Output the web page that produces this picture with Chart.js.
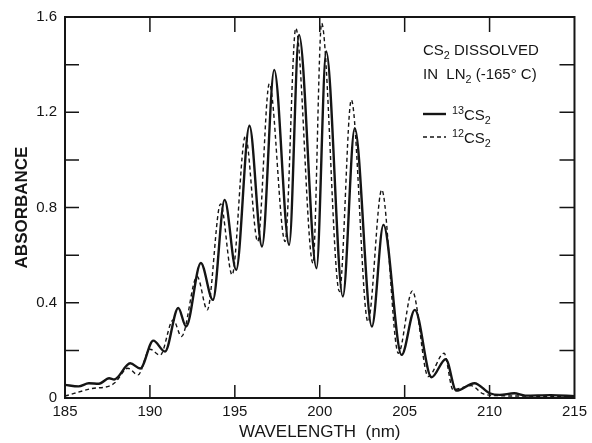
<!DOCTYPE html>
<html lang="en">
<head>
<meta charset="UTF-8">
<title>CS2 in LN2 absorbance</title>
<style>
  body { margin: 0; background: #fff; }
  #wrap { width: 592px; height: 443px; }
</style>
</head>
<body>
<div id="wrap"><canvas id="specChart"></canvas></div>

<script src="https://cdn.jsdelivr.net/npm/chart.js"></script>
<script>
// 13CS2 trace (solid line): wavelength (nm) and absorbance
const wl13 = [185.0, 185.8, 186.4, 187.0, 187.6, 187.9, 188.84, 189.43, 190.2, 190.89,
  191.67, 192.13, 193.0, 193.71, 194.4, 195.08, 195.86, 196.6, 197.32, 198.2,
  198.78, 199.81, 200.38, 201.36, 202.06, 203.07, 203.75, 204.82, 205.6, 206.58,
  207.42, 208.04, 209.11, 210.0, 210.6, 211.45, 212.1, 213.6, 215.0];
const abs13 = [0.055, 0.049, 0.062, 0.060, 0.083, 0.078, 0.146, 0.124, 0.241, 0.195,
  0.378, 0.300, 0.567, 0.412, 0.832, 0.538, 1.143, 0.636, 1.378, 0.643,
  1.525, 0.545, 1.455, 0.426, 1.133, 0.300, 0.727, 0.181, 0.370, 0.087,
  0.163, 0.031, 0.062, 0.020, 0.013, 0.020, 0.010, 0.012, 0.008];

// 12CS2 trace (dashed line)
const wl12 = [185.0, 186.6, 187.6, 187.95, 188.7, 189.3, 190.0, 190.6, 191.37, 191.86,
  192.78, 193.38, 194.16, 194.84, 195.62, 196.35, 197.03, 197.96, 198.59, 199.6,
  200.11, 201.16, 201.86, 202.84, 203.65, 204.63, 205.45, 206.39, 207.32, 207.85,
  208.92, 209.6, 210.5, 212.0, 215.0];
const abs12 = [0.008, 0.040, 0.050, 0.065, 0.125, 0.097, 0.205, 0.180, 0.328, 0.258,
  0.510, 0.370, 0.815, 0.517, 1.100, 0.657, 1.320, 0.657, 1.553, 0.566,
  1.574, 0.447, 1.252, 0.320, 0.874, 0.188, 0.450, 0.090, 0.188, 0.035,
  0.052, 0.018, 0.010, 0.008, 0.005];

// axis ticks
const xTicks = [185, 190, 195, 200, 205, 210, 215];
const yTicks = [0, 0.2, 0.4, 0.6, 0.8, 1.0, 1.2, 1.4, 1.6];
const yTickLabels = ['0', '', '0.4', '', '0.8', '', '1.2', '', '1.6'];

// text block in the top right; each piece is [text, 'sub' | 'sup' | '']
const noteLines = [
  [['CS', ''], ['2', 'sub'], [' DISSOLVED', '']],
  [['IN  LN', ''], ['2', 'sub'], [' (-165\u00b0 C)', '']]
];
const seriesNames = [
  [['13', 'sup'], ['CS', ''], ['2', 'sub']],
  [['12', 'sup'], ['CS', ''], ['2', 'sub']]
];

const FONT = '"Liberation Sans", Arial, sans-serif';
const INK = '#151515';

// draws a line of text with small sub/superscripts, returns nothing
function drawPieces(ctx, pieces, x, y, size) {
  pieces.forEach(([txt, kind]) => {
    const s = kind ? size * 0.72 : size;
    const dy = kind === 'sub' ? size * 0.28 : kind === 'sup' ? -size * 0.38 : 0;
    ctx.font = s + 'px ' + FONT;
    ctx.fillText(txt, x, y + dy);
    x += ctx.measureText(txt).width;
  });
}

// box, inward tick marks on all four sides, and the note/legend
const framePlugin = {
  id: 'framePlugin',
  afterDraw(chart) {
    const { ctx, chartArea: a, scales: { x, y } } = chart;
    ctx.save();
    ctx.strokeStyle = INK;
    ctx.lineWidth = 2;
    ctx.strokeRect(a.left, a.top, a.right - a.left, a.bottom - a.top);

    ctx.lineWidth = 1.5;
    ctx.beginPath();
    xTicks.slice(1, -1).forEach(v => {
      const px = x.getPixelForValue(v);
      ctx.moveTo(px, a.bottom); ctx.lineTo(px, a.bottom - 13);
      ctx.moveTo(px, a.top); ctx.lineTo(px, a.top + 15);
    });
    yTicks.slice(1, -1).forEach(v => {
      const py = y.getPixelForValue(v);
      ctx.moveTo(a.left, py); ctx.lineTo(a.left + 14, py);
      ctx.moveTo(a.right, py); ctx.lineTo(a.right - 15, py);
    });
    ctx.stroke();

    // note text
    ctx.fillStyle = INK;
    ctx.textBaseline = 'alphabetic';
    drawPieces(ctx, noteLines[0], 423, 55, 15);
    drawPieces(ctx, noteLines[1], 423, 79, 15);

    // legend samples, styled like the datasets
    const rows = [120, 143];
    chart.data.datasets.forEach((ds, i) => {
      const ly = rows[i] - 6;
      ctx.lineWidth = ds.borderWidth;
      ctx.setLineDash(ds.borderDash || []);
      ctx.beginPath();
      ctx.moveTo(423, ly); ctx.lineTo(446, ly);
      ctx.stroke();
      ctx.setLineDash([]);
      drawPieces(ctx, seriesNames[i], 452, rows[i], 15);
    });
    ctx.restore();
  }
};

const ctx = document.getElementById('specChart').getContext('2d');
const specChart = new Chart(ctx, {
  type: 'line',
  data: {
    datasets: [{
      label: '13CS2',
      data: wl13.map((w, i) => ({ x: w, y: abs13[i] })),
      borderColor: INK,
      borderWidth: 2.4,
      pointRadius: 0,
      cubicInterpolationMode: 'monotone'
    }, {
      label: '12CS2',
      data: wl12.map((w, i) => ({ x: w, y: abs12[i] })),
      borderColor: INK,
      borderWidth: 1.4,
      borderDash: [4, 3],
      pointRadius: 0,
      cubicInterpolationMode: 'monotone'
    }]
  },
  options: {
    responsive: true,
    maintainAspectRatio: false,
    animation: false,
    layout: { padding: { top: 17, right: 13, left: 0, bottom: 0 } },
    plugins: { legend: { display: false }, tooltip: { enabled: false } },
    scales: {
      x: {
        type: 'linear',
        min: 185, max: 215,
        grid: { display: false, drawTicks: false },
        border: { display: false },
        afterBuildTicks: s => { s.ticks = xTicks.map(v => ({ value: v })); },
        afterFit: s => { s.height = 45; },
        ticks: { color: INK, padding: 5, font: { family: FONT, size: 15 } },
        title: {
          display: true,
          text: 'WAVELENGTH  (nm)',
          color: INK,
          padding: 0,
          font: { family: FONT, size: 17 }
        }
      },
      y: {
        min: 0, max: 1.6,
        grid: { display: false, drawTicks: false },
        border: { display: false },
        afterBuildTicks: s => { s.ticks = yTicks.map(v => ({ value: v })); },
        afterFit: s => { s.width = 65; },
        ticks: {
          color: INK, padding: 8, font: { family: FONT, size: 15 },
          callback: (v, i) => yTickLabels[i]
        },
        title: {
          display: true,
          text: 'ABSORBANCE',
          color: INK,
          padding: { top: 12 },
          font: { family: FONT, size: 17, weight: 'bold' }
        }
      }
    }
  },
  plugins: [framePlugin]
});
</script>
</body>
</html>
